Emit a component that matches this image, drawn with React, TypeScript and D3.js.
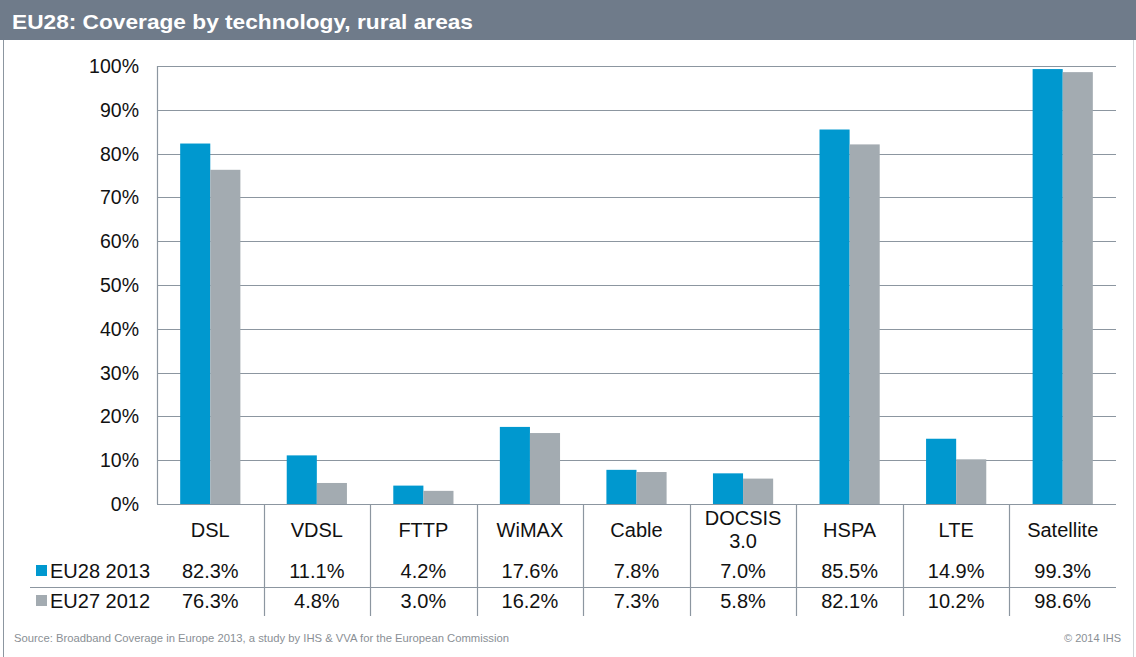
import React from "react";
import * as d3 from "d3";

const W = 1136;
const H = 657;

const categories = ["DSL", "VDSL", "FTTP", "WiMAX", "Cable", "DOCSIS 3.0", "HSPA", "LTE", "Satellite"];
const eu28 = [82.3, 11.1, 4.2, 17.6, 7.8, 7.0, 85.5, 14.9, 99.3];
const eu27 = [76.3, 4.8, 3.0, 16.2, 7.3, 5.8, 82.1, 10.2, 98.6];
const seriesNames = ["EU28 2013", "EU27 2012"];
const yTicks = [0, 10, 20, 30, 40, 50, 60, 70, 80, 90, 100];

const BLUE = "#0098cf";
const GREY = "#a3abb1";
const LINE = "#8c96a0";
const FONT = "'Liberation Sans', Arial, sans-serif";

export default function App() {
  const left = 157;
  const right = 1116;
  const top = 66;
  const bottom = 504;

  const x = d3.scaleBand<string>().domain(categories).range([left, right]);
  // two 30px bars centred in each ~106px band
  const inner = d3.scaleBand<number>().domain([0, 1]).range([0, x.bandwidth()]).paddingOuter(0.77).paddingInner(0);
  const y = d3.scaleLinear().domain([0, 100]).range([bottom, top]);

  const series = [eu28, eu27];
  const colors = [BLUE, GREY];
  const rowY = [571, 601];

  return (
    <svg width={W} height={H} style={{ position: "absolute", left: 0, top: 0, fontFamily: FONT }}>
      <rect x={0} y={0} width={W} height={H} fill="#fff" />
      {/* frame */}
      <rect x={0} y={0} width={W} height={40} fill="#6f7b8a" />
      <line x1={3.5} x2={3.5} y1={40} y2={H} stroke="#8c96a0" />
      <line x1={1133.5} x2={1133.5} y1={40} y2={H} stroke="#d0d4d8" />
      <text x={12} y={29} fill="#fff" fontSize={21} fontWeight="bold" textLength={461} lengthAdjust="spacingAndGlyphs">
        EU28: Coverage by technology, rural areas
      </text>

      {/* gridlines + y axis */}
      {yTicks.map((t) => (
        <g key={t}>
          <line x1={left} x2={right} y1={Math.round(y(t)) + 0.5} y2={Math.round(y(t)) + 0.5} stroke={LINE} strokeWidth={1.2} />
          <text x={139} y={y(t) + 7} textAnchor="end" fontSize={19.5} fill="#111">
            {t}%
          </text>
        </g>
      ))}
      <line x1={left + 0.5} x2={left + 0.5} y1={top} y2={bottom} stroke={LINE} strokeWidth={1.2} />

      {/* bars */}
      {categories.map((c, i) => (
        <g key={c}>
          {series.map((s, k) => (
            <rect
              key={k}
              x={(x(c) as number) + (inner(k) as number)}
              y={y(s[i])}
              width={inner.bandwidth()}
              height={bottom - y(s[i])}
              fill={colors[k]}
            />
          ))}
        </g>
      ))}

      {/* data table */}
      {categories.slice(1).map((c) => (
        <line key={c} x1={Math.round(x(c) as number) + 0.5} x2={Math.round(x(c) as number) + 0.5} y1={bottom} y2={616} stroke={LINE} strokeWidth={1.2} />
      ))}
      <line x1={30} x2={right} y1={587.5} y2={587.5} stroke={LINE} strokeWidth={1.2} />
      {categories.map((c) => {
        const cx = (x(c) as number) + x.bandwidth() / 2;
        const parts = c === "DOCSIS 3.0" ? ["DOCSIS", "3.0"] : [c];
        return (
          <text key={c} x={cx} textAnchor="middle" fontSize={20} fill="#111">
            {parts.length === 1 ? (
              <tspan x={cx} y={537}>{parts[0]}</tspan>
            ) : (
              parts.map((p, j) => (
                <tspan key={j} x={cx} y={525 + j * 23}>{p}</tspan>
              ))
            )}
          </text>
        );
      })}
      {series.map((s, k) => (
        <g key={k}>
          <rect x={36} y={rowY[k] - 6} width={11} height={11} fill={colors[k]} />
          <text x={50} y={rowY[k] + 7} fontSize={20} fill="#111">{seriesNames[k]}</text>
          {categories.map((c, i) => (
            <text key={c} x={(x(c) as number) + x.bandwidth() / 2} y={rowY[k] + 7} textAnchor="middle" fontSize={20} fill="#111">
              {s[i].toFixed(1)}%
            </text>
          ))}
        </g>
      ))}

      {/* footer */}
      <text x={14} y={642} fontSize={11} fill="#8a8f95" textLength={495} lengthAdjust="spacingAndGlyphs">
        Source: Broadband Coverage in Europe 2013, a study by IHS &amp; VVA for the European Commission
      </text>
      <text x={1121} y={642} fontSize={11} fill="#8a8f95" textAnchor="end">© 2014 IHS</text>
    </svg>
  );
}
